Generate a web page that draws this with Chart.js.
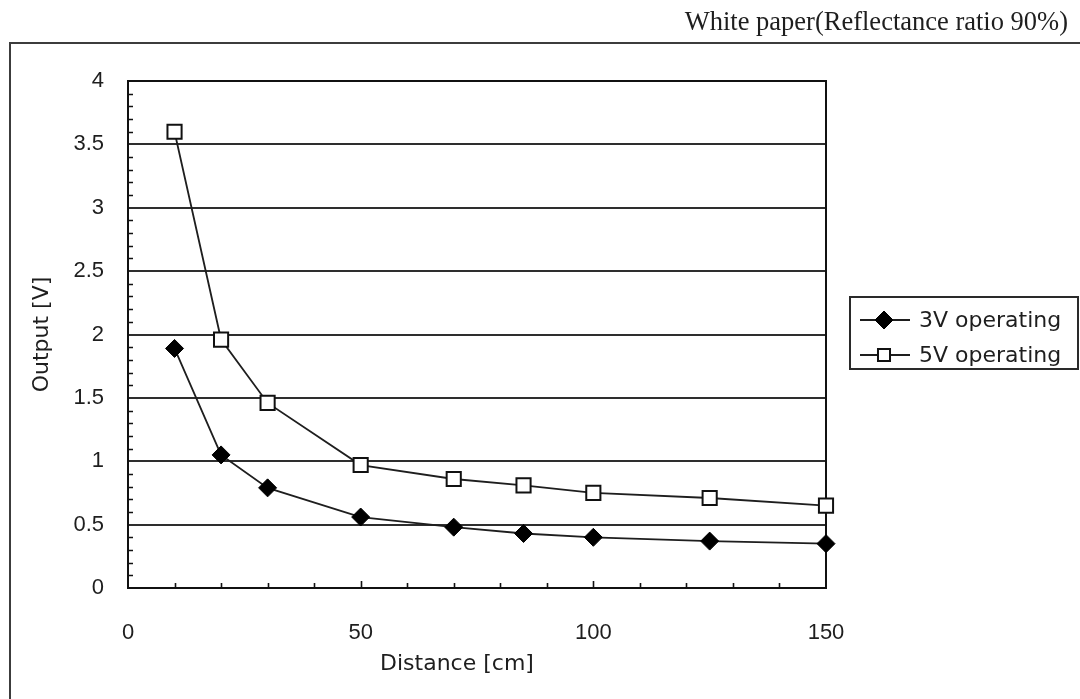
<!DOCTYPE html>
<html>
<head>
<meta charset="utf-8">
<script src="https://cdn.jsdelivr.net/npm/chart.js@4.4.0/dist/chart.umd.min.js"></script>
<style>
  html, body { margin: 0; padding: 0; background: #fff; }
  #wrap { width: 1080px; height: 699px; position: relative; }
</style>
</head>
<body>
<div id="wrap"><canvas id="c" width="1080" height="699"></canvas></div>
<script>
// Sensor output versus distance to a white target
const distances = [10, 20, 30, 50, 70, 85, 100, 125, 150];
const output3V = [1.89, 1.05, 0.79, 0.56, 0.48, 0.43, 0.40, 0.37, 0.35];
const output5V = [3.60, 1.96, 1.46, 0.97, 0.86, 0.81, 0.75, 0.71, 0.65];
const seriesNames = ['3V operating', '5V operating'];
const chartTitle = 'White paper(Reflectance ratio 90%)';
const xAxisTitle = 'Distance [cm]';
const yAxisTitle = 'Output [V]';
const xRange = [0, 150];
const yRange = [0, 4];
const xMajorStep = 50;
const yMajorStep = 0.5;
const xMinorStep = 10;
const yMinorStep = 0.1;

const INK = '#1e1e1e';
const FONT = 'DejaVu Sans';
const TICK_FONT = 'Liberation Sans';

function toPoints(xs, ys) {
  return xs.map((x, i) => ({ x: x, y: ys[i] }));
}

const pageDecor = {
  id: 'pageDecor',
  beforeDraw(chart) {
    const ctx = chart.ctx;
    ctx.save();
    ctx.fillStyle = '#fff';
    ctx.fillRect(0, 0, chart.width, chart.height);
    // outer frame running off the right and bottom edges
    ctx.strokeStyle = '#3c3c3c';
    ctx.lineWidth = 2;
    ctx.strokeRect(10, 43, chart.width + 20, chart.height + 20);
    // heading above the frame
    ctx.font = '26.5px "Liberation Serif"';
    ctx.fillStyle = INK;
    ctx.textAlign = 'right';
    ctx.textBaseline = 'alphabetic';
    ctx.fillText(chartTitle, 1068, 30);
    // distance axis caption, set slightly left of the plot centre
    ctx.font = '22px "' + FONT + '"';
    ctx.textAlign = 'center';
    ctx.textBaseline = 'middle';
    ctx.fillText(xAxisTitle, 457, 664);
    ctx.restore();
  },
  beforeDatasetsDraw(chart) {
    const ctx = chart.ctx;
    const a = chart.chartArea;
    const xs = chart.scales.x, ys = chart.scales.y;
    ctx.save();
    ctx.strokeStyle = '#111';
    ctx.lineWidth = 1.6;
    ctx.beginPath();
    // inward minor ticks on the value axis
    for (let v = yRange[0] + yMinorStep; v < yRange[1] - 1e-9; v += yMinorStep) {
      const r = Math.round(v * 10) / 10;
      if (Math.abs(r / yMajorStep - Math.round(r / yMajorStep)) < 1e-6) continue;
      const py = Math.round(ys.getPixelForValue(r)) + 0.5;
      ctx.moveTo(a.left, py);
      ctx.lineTo(a.left + 5, py);
    }
    // inward ticks on the distance axis
    for (let v = xRange[0] + xMinorStep; v < xRange[1]; v += xMinorStep) {
      const px = Math.round(xs.getPixelForValue(v)) + 0.5;
      const len = (v % xMajorStep === 0) ? 7 : 5;
      ctx.moveTo(px, a.bottom);
      ctx.lineTo(px, a.bottom - len);
    }
    ctx.stroke();
    // plot box
    ctx.lineWidth = 2;
    ctx.strokeRect(a.left, a.top, a.right - a.left, a.bottom - a.top);
    ctx.restore();
  },
  afterDraw(chart) {
    const ctx = chart.ctx;
    const box = { x: 850, y: 297, w: 228, h: 72 };
    ctx.save();
    ctx.fillStyle = '#fff';
    ctx.fillRect(box.x, box.y, box.w, box.h);
    ctx.strokeStyle = '#2a2a2a';
    ctx.lineWidth = 2;
    ctx.strokeRect(box.x, box.y, box.w, box.h);
    const rows = [320, 355];
    chart.data.datasets.forEach((ds, i) => {
      const cy = rows[i];
      ctx.strokeStyle = ds.borderColor;
      ctx.lineWidth = ds.borderWidth;
      ctx.beginPath();
      ctx.moveTo(860, cy);
      ctx.lineTo(910, cy);
      ctx.stroke();
      ctx.fillStyle = ds.pointBackgroundColor;
      ctx.strokeStyle = ds.pointBorderColor;
      ctx.lineWidth = ds.pointBorderWidth;
      Chart.helpers.drawPoint(ctx, {
        pointStyle: ds.pointStyle,
        radius: ds.pointStyle === 'rect' ? 8.5 : ds.pointRadius,
        rotation: 0,
        borderWidth: ds.pointBorderWidth
      }, 884, cy);
      ctx.fillStyle = INK;
      ctx.font = '22px "' + FONT + '"';
      ctx.textAlign = 'left';
      ctx.textBaseline = 'middle';
      ctx.fillText(ds.label, 919, cy + 1);
    });
    ctx.restore();
  }
};

new Chart(document.getElementById('c'), {
  type: 'line',
  data: {
    datasets: [
      {
        label: seriesNames[0],
        data: toPoints(distances, output3V),
        borderColor: INK,
        borderWidth: 1.8,
        tension: 0,
        pointStyle: 'rectRot',
        pointRadius: 9,
        pointBackgroundColor: '#000',
        pointBorderColor: '#000',
        pointBorderWidth: 1,
        clip: false
      },
      {
        label: seriesNames[1],
        data: toPoints(distances, output5V),
        borderColor: INK,
        borderWidth: 1.8,
        tension: 0,
        pointStyle: 'rect',
        pointRadius: 10,
        pointBackgroundColor: '#fff',
        pointBorderColor: '#111',
        pointBorderWidth: 2,
        clip: false
      }
    ]
  },
  options: {
    responsive: false,
    animation: false,
    devicePixelRatio: 1,
    layout: { padding: { left: 0, top: 81, right: 254, bottom: 0 } },
    plugins: {
      legend: { display: false },
      tooltip: { enabled: false },
      title: { display: false }
    },
    scales: {
      x: {
        type: 'linear',
        min: xRange[0],
        max: xRange[1],
        ticks: { stepSize: xMajorStep, padding: 32, color: INK, font: { family: TICK_FONT, size: 22 } },
        grid: { drawOnChartArea: false, drawTicks: false },
        border: { color: '#111', width: 2 },
        title: { display: false },
        afterFit(s) { s.height = 111; }
      },
      y: {
        type: 'linear',
        min: yRange[0],
        max: yRange[1],
        ticks: {
          stepSize: yMajorStep, padding: 24, color: INK, font: { family: TICK_FONT, size: 22 },
          callback: (v) => String(Math.round(v * 10) / 10)
        },
        grid: { color: '#2e2e2e', lineWidth: 2, drawTicks: false },
        border: { color: '#111', width: 2 },
        title: { display: true, text: yAxisTitle, color: INK, font: { family: FONT, size: 22 }, padding: { top: 29, bottom: 0 } },
        afterFit(s) { s.width = 128; }
      }
    }
  },
  plugins: [pageDecor]
});
</script>
</body>
</html>
